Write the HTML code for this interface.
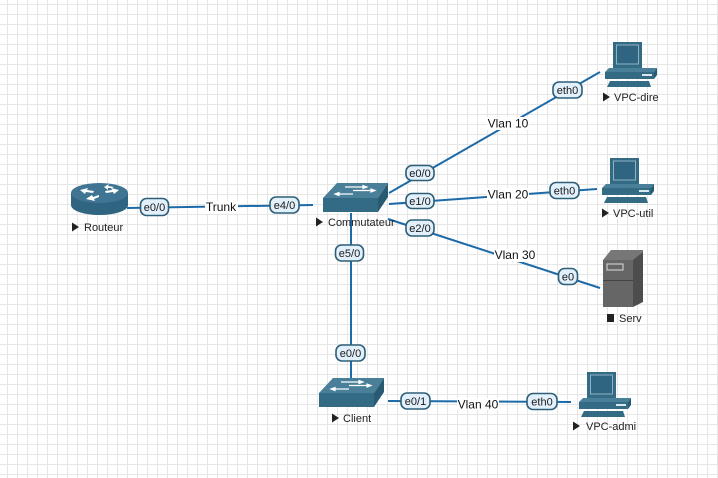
<!DOCTYPE html>
<html><head><meta charset="utf-8"><style>
html,body{margin:0;padding:0;background:#fff;}
svg{display:block;}
text{font-family:"Liberation Sans",Arial,sans-serif;}
</style></head><body>
<svg width="718" height="478" viewBox="0 0 718 478" xmlns="http://www.w3.org/2000/svg">
<defs>
<pattern id="g" x="0" y="0" width="10" height="10" patternUnits="userSpaceOnUse">
<path d="M7.5 0V10M0 4.5H10" stroke="#e6e6e6" stroke-width="1" fill="none"/>
</pattern>
<g id="sw">
<polygon points="14,0 65,0 55,15 0,15" fill="#4a7f99"/>
<rect x="0" y="15" width="55" height="14" fill="#336a84"/>
<polygon points="55,15 65,0 65,14 55,29" fill="#285a72"/>
<g stroke="#fff" stroke-width="1.2" fill="#fff">
<line x1="22" y1="4" x2="40" y2="4"/><polygon points="40,2.5 44,4 40,5.5"/>
<line x1="30" y1="7.5" x2="48" y2="7.5"/><polygon points="48,6 52,7.5 48,9"/>
<line x1="16" y1="11" x2="30" y2="11"/><polygon points="16,9.5 12,11 16,12.5"/>
<line x1="28" y1="7.5" x2="40" y2="7.5" stroke="none"/>
</g>
</g>
<g id="pc">
<rect x="9" y="0" width="29" height="26" fill="#336a84"/>
<rect x="12.5" y="3" width="22" height="19" fill="#2f6580" stroke="#8fb3c6" stroke-width="1"/>
<polygon points="5,26 53,26 50,30 1,30" fill="#4a7f99"/>
<rect x="1" y="30" width="49" height="7" fill="#336a84"/>
<polygon points="50,30 53,26 53,33 50,37" fill="#285a72"/>
<rect x="38" y="32" width="10" height="2" fill="#d8e6ee"/>
<polygon points="6,39 45,39 47,45 3,45" fill="#336a84"/>
</g>
<g id="tri"><polygon points="0,0 7,4.5 0,9" fill="#222"/></g>
</defs>
<rect width="718" height="478" fill="url(#g)"/>

<!-- connectors -->
<g stroke="#1c6aa8" stroke-width="2" fill="none">
<line x1="127" y1="208" x2="313" y2="205"/>
<line x1="389" y1="193" x2="600" y2="72"/>
<line x1="389" y1="204" x2="597" y2="189"/>
<line x1="388" y1="219" x2="600" y2="288"/>
<line x1="351" y1="213" x2="351" y2="378"/>
<line x1="388" y1="401" x2="571" y2="402"/>
</g>

<!-- Router -->
<path d="M71,193 V205 A28.5,10 0 0 0 128,205 V193 Z" fill="#2f6580"/>
<ellipse cx="99.5" cy="193" rx="28.5" ry="10" fill="#3f7592"/>
<g fill="#fff">
<polygon points="80,190 88,188 87,190 94,191 93,193 86,192 85,194"/>
<polygon points="119,190 111,188 112,190 105,191 106,193 113,192 114,194"/>
<polygon points="86,199 92,195 93,197 99,195 99,197 94,199 95,201"/>
<polygon points="104,187 109,184 108,186 114,187 112,188 108,188 108,190"/>
</g>

<!-- Switches -->
<use href="#sw" x="323" y="183"/>
<use href="#sw" x="319" y="378"/>

<!-- PCs -->
<use href="#pc" x="604" y="42"/>
<use href="#pc" x="601" y="158"/>
<use href="#pc" x="578" y="372"/>

<!-- Server -->
<polygon points="611,250 643,250 643,258 633,260 603,260" fill="#777"/>
<rect x="603" y="260" width="30" height="47" fill="#666"/>
<polygon points="633,260 643,252 643,302 633,307" fill="#4d4d4d"/>
<rect x="607" y="264" width="16" height="6" fill="#666" stroke="#ddd" stroke-width="1"/>
<line x1="603" y1="280.5" x2="633" y2="280.5" stroke="#444" stroke-width="1"/>

<!-- node labels -->
<g font-size="11" fill="#222">
<use href="#tri" x="72" y="222.5"/><text x="84" y="231">Routeur</text>
<use href="#tri" x="316" y="217.5"/><text x="328" y="226">Commutateur</text>
<use href="#tri" x="603" y="92.5"/><text x="614" y="101">VPC-dire</text>
<use href="#tri" x="602" y="208.5"/><text x="613" y="217">VPC-util</text>
<rect x="607" y="314" width="7" height="8" fill="#222"/><text x="619" y="322">Serv</text>
<use href="#tri" x="332" y="413.5"/><text x="343" y="422">Client</text>
<use href="#tri" x="573" y="421.5"/><text x="586" y="430">VPC-admi</text>
</g>

<!-- edge text labels -->
<g font-size="12" fill="#111" text-anchor="middle">
<rect x="205" y="201" width="33" height="13" fill="#fff"/><text x="221" y="211">Trunk</text>
<rect x="487" y="117" width="42" height="13" fill="#fff"/><text x="508" y="127.5">Vlan 10</text>
<rect x="487" y="188" width="42" height="13" fill="#fff"/><text x="508" y="198.5">Vlan 20</text>
<rect x="494" y="249" width="42" height="13" fill="#fff"/><text x="515" y="259">Vlan 30</text>
<rect x="457" y="398" width="42" height="12" fill="#fff"/><text x="478" y="408.5">Vlan 40</text>
</g>

<!-- port labels -->
<g font-size="11" fill="#1a1a1a" text-anchor="middle">
<g stroke="#2e5f78" stroke-width="1.6" fill="#e2f0fb">
<rect x="140.5" y="198.5" width="28" height="17" rx="6"/>
<rect x="270" y="197" width="29" height="16" rx="6"/>
<rect x="406" y="165.5" width="28" height="15" rx="6"/>
<rect x="406" y="193.5" width="28" height="15" rx="6"/>
<rect x="406" y="220" width="28" height="16" rx="6"/>
<rect x="335.5" y="245" width="28" height="16" rx="6"/>
<rect x="336" y="345" width="29" height="16" rx="6"/>
<rect x="401" y="393" width="29" height="16" rx="6"/>
<rect x="553" y="82" width="29" height="16" rx="6"/>
<rect x="550" y="182.5" width="29" height="16" rx="6"/>
<rect x="558.5" y="268.5" width="19" height="16" rx="6"/>
<rect x="527" y="393.5" width="30" height="16" rx="6"/>
</g>
<text x="154.5" y="211">e0/0</text>
<text x="284.5" y="209">e4/0</text>
<text x="420" y="177">e0/0</text>
<text x="420" y="205">e1/0</text>
<text x="420" y="232">e2/0</text>
<text x="349.5" y="257">e5/0</text>
<text x="350.5" y="357">e0/0</text>
<text x="415.5" y="405">e0/1</text>
<text x="567.5" y="94">eth0</text>
<text x="564.5" y="194.5">eth0</text>
<text x="568" y="280.5">e0</text>
<text x="542" y="405.5">eth0</text>
</g>
</svg>
</body></html>
